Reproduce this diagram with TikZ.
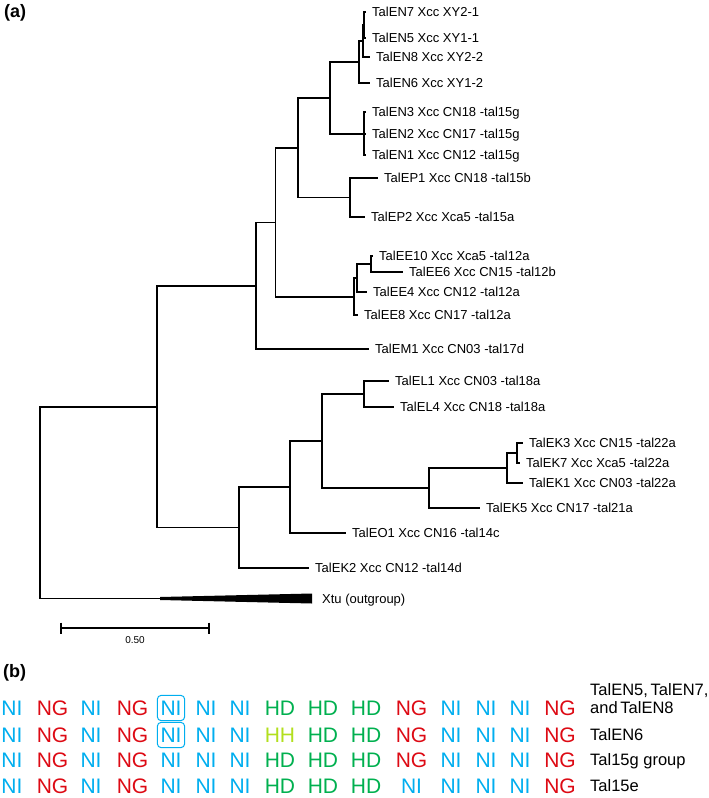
\documentclass[tikz,border=0pt]{standalone}
\usepackage{fontspec}
\setmainfont{Liberation Sans}
\usetikzlibrary{fit}

\definecolor{NI}{HTML}{00AEEF}
\definecolor{NG}{HTML}{DD0A14}
\definecolor{HD}{HTML}{00B04F}
\definecolor{HH}{HTML}{B2DF1E}

% x positions of the repeat columns in (b)
\def\rvdcols{{12,52.5,91,132.5,171,206,240,280,323,366,411.5,451,486,520,560}}

\tikzset{
  branch/.style={line width=1.2pt},
  leaf/.style={anchor=west, inner xsep=6pt, inner ysep=0pt, text height=9.3pt, text depth=0pt, font=\fontsize{13}{15}\selectfont},
  rvd/.style={inner sep=0pt, text height=15pt, text depth=0pt, font=\fontsize{21}{24}\selectfont},
  rvdbox/.style={draw=NI, line width=1pt, rounded corners=4pt, inner xsep=3pt, inner ysep=5pt},
  rowlabel/.style={anchor=west, inner sep=0pt, text height=11.8pt, text depth=0pt, font=\fontsize{16.5}{19}\selectfont},
  panel/.style={anchor=west, inner sep=0pt, font=\fontsize{18}{20}\selectfont\bfseries}
}

\begin{document}
\begin{tikzpicture}[x=1pt,y=-1pt]
        \useasboundingbox (0,0) rectangle (709,798);
        % \draw[help lines, gray!50, very thin] (0,0) grid[step=50] (709,798);

        \node[panel] (pa) at (4,13) {(a)};

        % inner nodes of the tree
        \coordinate (nA) at (364,25);
        \coordinate (nB) at (363,41);
        \coordinate (nC) at (359,62);
        \coordinate (nD) at (364,134);
        \coordinate (nE) at (330,98);
        \coordinate (nF) at (350,197.5);
        \coordinate (nG) at (298,148);
        \coordinate (nH) at (371,264);
        \coordinate (nI) at (357,278);
        \coordinate (nJ) at (354,297);
        \coordinate (nK) at (275.5,222.5);
        \coordinate (nL) at (256,286);
        \coordinate (nM) at (364,394);
        \coordinate (nN) at (517,453);
        \coordinate (nO) at (507,468);
        \coordinate (nP) at (429,488);
        \coordinate (nQ) at (322,441);
        \coordinate (nR) at (290,487);
        \coordinate (nS) at (239,527.5);
        \coordinate (nT) at (157,407);
        \coordinate (root) at (40,503);
        \coordinate (og) at (160,598.5);

        % leaves
        \node[leaf] (en7) at (366,12) {TalEN7 Xcc XY2-1};
        \node[leaf] (en5) at (366,38) {TalEN5 Xcc XY1-1};
        \node[leaf] (en8) at (370,57) {TalEN8 Xcc XY2-2};
        \node[leaf] (en6) at (370,83) {TalEN6 Xcc XY1-2};
        \node[leaf] (en3) at (366,112) {TalEN3 Xcc CN18 -tal15g};
        \node[leaf] (en2) at (366,134) {TalEN2 Xcc CN17 -tal15g};
        \node[leaf] (en1) at (366,155) {TalEN1 Xcc CN12 -tal15g};
        \node[leaf] (ep1) at (378,178) {TalEP1 Xcc CN18 -tal15b};
        \node[leaf] (ep2) at (365,217) {TalEP2 Xcc Xca5 -tal15a};
        \node[leaf] (ee10) at (373,256) {TalEE10 Xcc Xca5 -tal12a};
        \node[leaf] (ee6) at (403,272) {TalEE6 Xcc CN15 -tal12b};
        \node[leaf] (ee4) at (367,292) {TalEE4 Xcc CN12 -tal12a};
        \node[leaf] (ee8) at (358,315) {TalEE8 Xcc CN17 -tal12a};
        \node[leaf] (em1) at (369,349) {TalEM1 Xcc CN03 -tal17d};
        \node[leaf] (el1) at (389,381) {TalEL1 Xcc CN03 -tal18a};
        \node[leaf] (el4) at (394,407) {TalEL4 Xcc CN18 -tal18a};
        \node[leaf] (ek3) at (523,443) {TalEK3 Xcc CN15 -tal22a};
        \node[leaf] (ek7) at (520,463) {TalEK7 Xcc Xca5 -tal22a};
        \node[leaf] (ek1) at (523,483) {TalEK1 Xcc CN03 -tal22a};
        \node[leaf] (ek5) at (480,508) {TalEK5 Xcc CN17 -tal21a};
        \node[leaf] (eo1) at (346,533) {TalEO1 Xcc CN16 -tal14c};
        \node[leaf] (ek2) at (309,568) {TalEK2 Xcc CN12 -tal14d};
        \node[leaf, inner xsep=10pt] (xtu) at (312,598.5) {Xtu (outgroup)};

        % branches
        \foreach \p/\c in {nA/en7, nA/en5, nB/nA, nB/en8, nC/nB, nC/en6,
                           nD/en3, nD/en2, nD/en1, nE/nC, nE/nD, nF/ep1, nF/ep2, nG/nE, nG/nF,
                           nH/ee10, nH/ee6, nI/nH, nI/ee4, nJ/nI, nJ/ee8, nK/nG, nK/nJ, nL/nK, nL/em1,
                           nM/el1, nM/el4, nN/ek3, nN/ek7, nO/nN, nO/ek1, nP/nO, nP/ek5,
                           nQ/nM, nQ/nP, nR/nQ, nR/eo1, nS/nR, nS/ek2, nT/nL, nT/nS, root/nT, root/og}
          \draw[branch] (\p) |- (\c);

        % collapsed outgroup
        \fill ([yshift=1.5pt]og) -- ([yshift=5pt]xtu.west) -- ([yshift=-5pt]xtu.west) -- ([yshift=-1.5pt]og) -- cycle;

        % scale bar
        \coordinate (sbl) at (61,628);
        \coordinate (sbr) at (209,628);
        \draw[branch] (sbl) -- (sbr);
        \draw[branch] ([yshift=5.5pt]sbl) -- ([yshift=-5.5pt]sbl);
        \draw[branch] ([yshift=5.5pt]sbr) -- ([yshift=-5.5pt]sbr);
        \node[font=\fontsize{10}{12}\selectfont] (sblab) at (135,640) {0.50};

        \node[panel] (pb) at (3,673) {(b)};

        \foreach \rvd [count=\c] in {NI,NG,NI,NG,NI,NI,NI,HD,HD,HD,NG,NI,NI,NI,NG} {
          \pgfmathsetmacro\cx{\rvdcols[\c-1]}
          \node[rvd, text=\rvd] (r1c\c) at (\cx,708) {\rvd};
        }
        \foreach \rvd [count=\c] in {NI,NG,NI,NG,NI,NI,NI,HH,HD,HD,NG,NI,NI,NI,NG} {
          \pgfmathsetmacro\cx{\rvdcols[\c-1]}
          \node[rvd, text=\rvd] (r2c\c) at (\cx,735) {\rvd};
        }
        \foreach \rvd [count=\c] in {NI,NG,NI,NG,NI,NI,NI,HD,HD,HD,NG,NI,NI,NI,NG} {
          \pgfmathsetmacro\cx{\rvdcols[\c-1]}
          \node[rvd, text=\rvd] (r3c\c) at (\cx,760) {\rvd};
        }
        \foreach \rvd [count=\c] in {NI,NG,NI,NG,NI,NI,NI,HD,HD,HD,NI,NI,NI,NI,NG} {
          \pgfmathsetmacro\cx{\rvdcols[\c-1]}
          \node[rvd, text=\rvd] (r4c\c) at (\cx,786) {\rvd};
        }

        \node[rvdbox, fit=(r1c5)] (box1) {};
        \node[rvdbox, fit=(r2c5)] (box2) {};

        \node[rowlabel] (lab1a) at (590,689.5) {TalEN5,\,TalEN7,};
        \node[rowlabel] (lab1b) at (590,708) {and\,TalEN8};
        \node[rowlabel] (lab2) at (590,735) {TalEN6};
        \node[rowlabel] (lab3) at (590,760) {Tal15g group};
        \node[rowlabel] (lab4) at (590,786) {Tal15e};
      \end{tikzpicture}
\end{document}
